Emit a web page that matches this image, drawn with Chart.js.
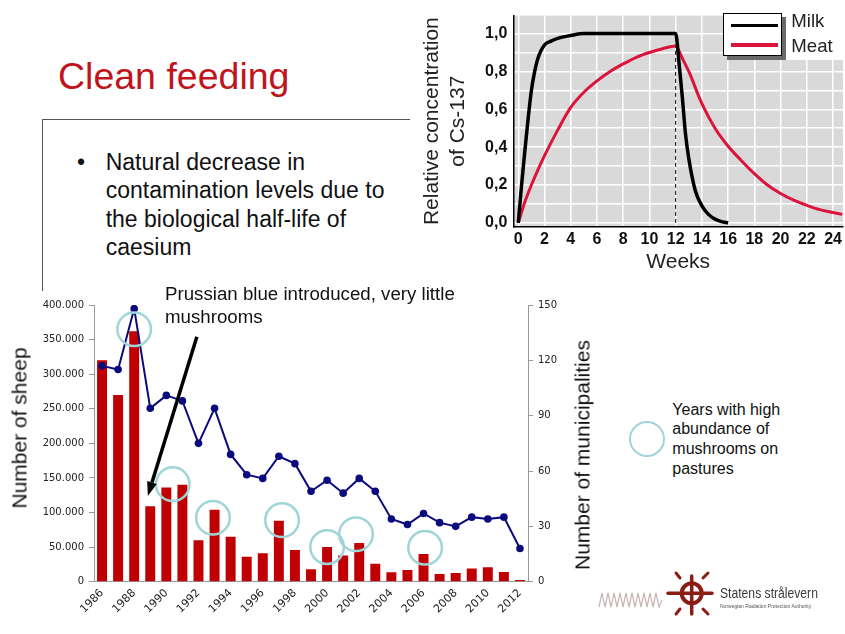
<!DOCTYPE html>
<html>
<head>
<meta charset="utf-8">
<script src="https://cdn.jsdelivr.net/npm/chart.js@4.4.1/dist/chart.umd.min.js"></script>
<style>
  body { margin:0; background:#fff; }
  #slide { position:relative; width:845px; height:634px; overflow:hidden; font-family:"Liberation Sans", Arial, sans-serif; color:#111; }
  #slide > * { position:absolute; }
  .title { left:58px; top:58.3px; font-size:37.5px; line-height:1; color:#c0141c; white-space:nowrap; }
  .boxh { left:42px; top:118.5px; width:368px; height:1.5px; background:#555; }
  .boxv { left:41.5px; top:118.5px; width:1.5px; height:172px; background:#555; }
  .bullet { left:77px; top:147.8px; font-size:23px; line-height:28.5px; }
  .btext { left:105.7px; top:147.8px; font-size:23px; line-height:28.5px; white-space:nowrap; }
  #cs137 { left:410px; top:0; }
  .corner { left:781.7px; top:0; width:64px; height:60px; background:#fff; }
  #cslegend { left:723.3px; top:12.7px; width:58.4px; height:43.3px; box-sizing:border-box; border:1.5px solid #000; background:#fff; box-shadow:4px 4px 0 #6a6a6a; }
  #cslegend div { position:absolute; }
  .lgtext { font-size:18.6px; line-height:1; color:#222; white-space:nowrap; }
  #sheep { left:0; top:280px; }
  .note { left:165px; top:281.9px; font-size:18.7px; line-height:23.3px; white-space:nowrap; color:#111; }
  .vtitle { font-size:21px; line-height:1; white-space:nowrap; transform:translate(-50%,-50%) rotate(-90deg); color:#111; }
  .ring { left:628.7px; top:421px; width:36px; height:36px; box-sizing:border-box; border:2.5px solid #9fd5d9; border-radius:50%; }
  .mtext { left:672.3px; top:399.6px; font-size:16px; line-height:19.7px; white-space:nowrap; color:#111; }
  .logo1 { left:720px; top:585px; font-size:15px; line-height:1; color:#3a3a3a; transform-origin:0 0; transform:scaleX(0.81); white-space:nowrap; }
  .logo2 { left:720px; top:603.5px; font-size:5px; line-height:1; color:#555; white-space:nowrap; }
</style>
</head>
<body>
<div id="slide">
  <div class="title">Clean feeding</div>
  <div class="boxh"></div>
  <div class="boxv"></div>
  <div class="bullet">•</div>
  <div class="btext">Natural decrease in<br>contamination levels due to<br>the biological half-life of<br>caesium</div>
  <canvas id="cs137" width="435" height="280"></canvas>
  <div class="corner"></div>
  <div id="cslegend"></div>
  <canvas id="sheep" width="600" height="354"></canvas>
  <div class="note">Prussian blue introduced, very little<br>mushrooms</div>
  <div class="vtitle" style="left:19px;top:428px">Number of sheep</div>
  <div class="vtitle" style="left:582px;top:455px">Number of municipalities</div>
  <div class="ring"></div>
  <div class="mtext">Years with high<br>abundance of<br>mushrooms on<br>pastures</div>
  <svg style="left:595px;top:570px" width="125" height="50" viewBox="595 570 125 50">
    <polyline fill="none" stroke="#c9b4b4" stroke-width="1.2"
      points="599,607 602,593 605,607 608,593 611,607 614,593 617,607 620,593 623,607 626,593 629,607 632,593 635,607 638,593 641,607 644,593 647,607 650,593 653,607 656,593 659,607 662,600"/>
    <g stroke="#8c1d14" fill="none" stroke-linecap="round">
      <circle cx="691.7" cy="593.3" r="10" stroke-width="4"/>
      <line x1="668" y1="593.3" x2="712" y2="593.3" stroke-width="3.5"/>
      <line x1="691.7" y1="576" x2="691.7" y2="614" stroke-width="3.5"/>
      <line x1="680" y1="578" x2="676" y2="573" stroke-width="3"/>
      <line x1="703" y1="578" x2="708" y2="573" stroke-width="3"/>
      <line x1="680" y1="609" x2="676" y2="614" stroke-width="3"/>
      <line x1="703" y1="609" x2="708" y2="614" stroke-width="3"/>
    </g>
  </svg>
  <div class="logo1">Statens strålevern</div>
  <div class="logo2">Norwegian Radiation Protection Authority</div>
</div>

<script>
// ---- Cs-137 in milk / meat after clean feeding (weeks, relative conc.) ----
const milkWeeks = [0, 0.25, 0.5, 0.75, 1, 1.25, 1.5, 2, 2.5, 3, 4, 5, 12, 12.25, 12.5, 12.75, 13, 13.5, 14, 14.5, 15, 15.5, 16];
const milkConc  = [0, 0.2, 0.38, 0.55, 0.7, 0.8, 0.87, 0.94, 0.96, 0.975, 0.99, 1, 1, 0.85, 0.67, 0.47, 0.34, 0.17, 0.09, 0.045, 0.02, 0.007, 0];
const meatWeeks = [0, 0.5, 1, 1.5, 2, 3, 4, 5, 6, 7, 8, 9, 10, 11, 12, 12.5, 13, 14, 15, 16, 17, 18, 19, 20, 21, 22, 23, 24, 24.7];
const meatConc  = [0, 0.11, 0.2, 0.28, 0.355, 0.49, 0.61, 0.69, 0.75, 0.8, 0.84, 0.875, 0.9, 0.92, 0.935, 0.87, 0.8, 0.63, 0.5, 0.405, 0.33, 0.26, 0.2, 0.155, 0.12, 0.093, 0.07, 0.055, 0.045];
const cutoffWeek = 12;

// ---- sheep needing clean feeding / municipalities ----
const years = [1986, 1987, 1988, 1989, 1990, 1991, 1992, 1993, 1994, 1995, 1996, 1997, 1998, 1999,
               2000, 2001, 2002, 2003, 2004, 2005, 2006, 2007, 2008, 2009, 2010, 2011, 2012];
const sheep = [320000, 270000, 362000, 109000, 136000, 140000, 60000, 104000, 65000, 36000, 41000, 88000, 46000, 18000,
               50000, 38000, 56000, 26000, 13600, 17000, 40000, 11000, 12600, 19000, 21000, 14000, 2500];
const municipalities = [117, 115, 148, 94, 101, 98, 75, 94, 69, 58, 56, 68, 64, 49,
                        55, 48, 56, 49, 34, 31, 37, 32, 30, 35, 34, 35, 18];
// mushroom years (circle markers), in year / sheep units
const mushroomYears = [1988, 1990.4, 1992.9, 1997.2, 2000, 2001.8, 2006.1];
const mushroomSheep = [365000, 141000, 92500, 89000, 50000, 68500, 49000];
// Prussian blue arrow (year, sheep)
const arrowFrom = [1991.9, 354000];
const arrowTo   = [1988.85, 124000];

const navy = '#0b0b7e';
const meatRed = '#dc143c';
const ringColor = '#9fd5d9';

// -------------------- top chart --------------------
const plotBg = {
  id: 'plotBg',
  beforeDraw(chart) {
    const a = chart.chartArea, ctx = chart.ctx;
    ctx.save();
    ctx.fillStyle = '#d9d9d9';
    ctx.fillRect(a.left, a.top, a.right - a.left, a.bottom - a.top);
    ctx.restore();
  }
};

const csChart = new Chart(document.getElementById('cs137'), {
  type: 'line',
  data: {
    datasets: [
      { label: 'Milk', data: milkWeeks.map((w, i) => ({ x: w, y: milkConc[i] })),
        borderColor: '#000', borderWidth: 3.5, pointRadius: 0, cubicInterpolationMode: 'monotone' },
      { label: 'Meat', data: meatWeeks.map((w, i) => ({ x: w, y: meatConc[i] })),
        borderColor: meatRed, borderWidth: 3, pointRadius: 0, cubicInterpolationMode: 'monotone' },
      { data: [{ x: cutoffWeek, y: 0 }, { x: cutoffWeek, y: 1 }],
        borderColor: '#000', borderWidth: 1, borderDash: [4, 3], pointRadius: 0 }
    ]
  },
  options: {
    responsive: false,
    animation: false,
    layout: { padding: { top: 5, right: 1.7, left: 0, bottom: 0 } },
    plugins: { legend: { display: false }, tooltip: { enabled: false } },
    scales: {
      x: {
        type: 'linear', min: -0.38, max: 24.76,
        afterFit: s => { s.height = 53.3; },
        ticks: { stepSize: 2, includeBounds: false, padding: 3, color: '#111',
                 font: { family: 'Liberation Sans', size: 16, weight: 'bold' } },
        grid: { color: '#fff', lineWidth: 1.5, drawTicks: false },
        border: { color: '#000', width: 1.5 },
        title: { display: true, text: 'Weeks', color: '#222',
                 font: { family: 'Liberation Sans', size: 21 }, padding: { top: 0, bottom: 5 } }
      },
      y: {
        min: -0.02, max: 1.095,
        afterFit: s => { s.width = 103.3; },
        ticks: { stepSize: 0.1, includeBounds: false, autoSkip: false, padding: 6, color: '#111',
                 font: { family: 'Liberation Sans', size: 16, weight: 'bold' },
                 callback: v => Math.round(v * 10) % 2 === 0 ? v.toFixed(1).replace('.', ',') : '' },
        grid: { color: '#fff', lineWidth: 1.5, drawTicks: false },
        border: { color: '#000', width: 1.5 },
        title: { display: true, text: ['Relative concentration', 'of Cs-137'], color: '#222',
                 font: { family: 'Liberation Sans', size: 21, lineHeight: 1.24 }, padding: { top: 9, bottom: 0 } }
      }
    }
  },
  plugins: [plotBg]
});

// legend box, made from the labelled datasets
let lg = '';
csChart.data.datasets.filter(d => d.label).forEach((d, i) => {
  const lineTop = 10.8 + i * 18.3;
  lg += `<div style="left:7px;top:${lineTop}px;width:46.6px;height:${i ? 4 : 2.8}px;background:${d.borderColor}"></div>`;
  lg += `<div class="lgtext" style="left:67px;top:${-1.6 + i * 25}px">${d.label}</div>`;
});
document.getElementById('cslegend').innerHTML = lg;

// -------------------- bottom chart --------------------
// mushroom rings + arrow, placed through the category / sheep scales
const notes = {
  id: 'notes',
  afterDatasetsDraw(chart) {
    const { ctx, scales: { x, y } } = chart;
    const px = yr => x.getPixelForValue(yr - years[0]);
    ctx.save();
    ctx.strokeStyle = ringColor;
    ctx.lineWidth = 2.5;
    mushroomYears.forEach((yr, i) => {
      ctx.beginPath();
      ctx.arc(px(yr), y.getPixelForValue(mushroomSheep[i]), 16.8, 0, Math.PI * 2);
      ctx.stroke();
    });

    const x1 = px(arrowFrom[0]), y1 = y.getPixelForValue(arrowFrom[1]);
    const x2 = px(arrowTo[0]), y2 = y.getPixelForValue(arrowTo[1]);
    const ang = Math.atan2(y2 - y1, x2 - x1);
    const hl = 14, hw = 5;
    const bx = x2 - hl * Math.cos(ang), by = y2 - hl * Math.sin(ang);
    ctx.strokeStyle = '#000';
    ctx.fillStyle = '#000';
    ctx.lineWidth = 3.5;
    ctx.beginPath();
    ctx.moveTo(x1, y1);
    ctx.lineTo(bx, by);
    ctx.stroke();
    ctx.beginPath();
    ctx.moveTo(x2, y2);
    ctx.lineTo(bx + hw * Math.sin(ang), by - hw * Math.cos(ang));
    ctx.lineTo(bx - hw * Math.sin(ang), by + hw * Math.cos(ang));
    ctx.closePath();
    ctx.fill();
    ctx.restore();
  }
};

const dotNum = v => String(v).replace(/\B(?=(\d{3})+(?!\d))/g, '.');
const smallFont = { family: 'DejaVu Sans', size: 10 };

new Chart(document.getElementById('sheep'), {
  type: 'bar',
  data: {
    labels: years,
    datasets: [
      { type: 'line', label: 'Number of municipalities', data: municipalities, yAxisID: 'y2',
        borderColor: navy, borderWidth: 2, pointRadius: 3.8, pointBackgroundColor: navy,
        pointBorderWidth: 0, order: 0 },
      { label: 'Number of sheep', data: sheep, yAxisID: 'y', backgroundColor: '#c00000',
        grouped: false, barPercentage: 0.62, categoryPercentage: 1, order: 1 }
    ]
  },
  options: {
    responsive: false,
    animation: false,
    layout: { padding: { top: 25, right: 0, left: 0, bottom: 0 } },
    plugins: { legend: { display: false }, tooltip: { enabled: false } },
    scales: {
      x: {
        afterFit: s => { s.height = 52.3; },
        ticks: { autoSkip: false, maxRotation: 45, minRotation: 45, padding: 5, color: '#222',
                 font: { family: 'DejaVu Sans', size: 11 },
                 callback: (v, i) => i % 2 === 0 ? years[i] : '' },
        grid: { drawOnChartArea: false, drawTicks: false },
        border: { color: '#999', width: 1 }
      },
      y: {
        position: 'left', min: 0, max: 400000,
        afterFit: s => { s.width = 94; },
        ticks: { stepSize: 50000, padding: 5, color: '#222', font: smallFont, callback: v => dotNum(v) },
        grid: { drawOnChartArea: false, tickLength: 5, color: '#999' },
        border: { color: '#999', width: 1 }
      },
      y2: {
        position: 'right', min: 0, max: 150,
        afterFit: s => { s.width = 72; },
        ticks: { stepSize: 30, padding: 5, color: '#222', font: smallFont },
        grid: { drawOnChartArea: false, tickLength: 5, color: '#999' },
        border: { color: '#999', width: 1 }
      }
    }
  },
  plugins: [notes]
});
</script>
</body>
</html>
